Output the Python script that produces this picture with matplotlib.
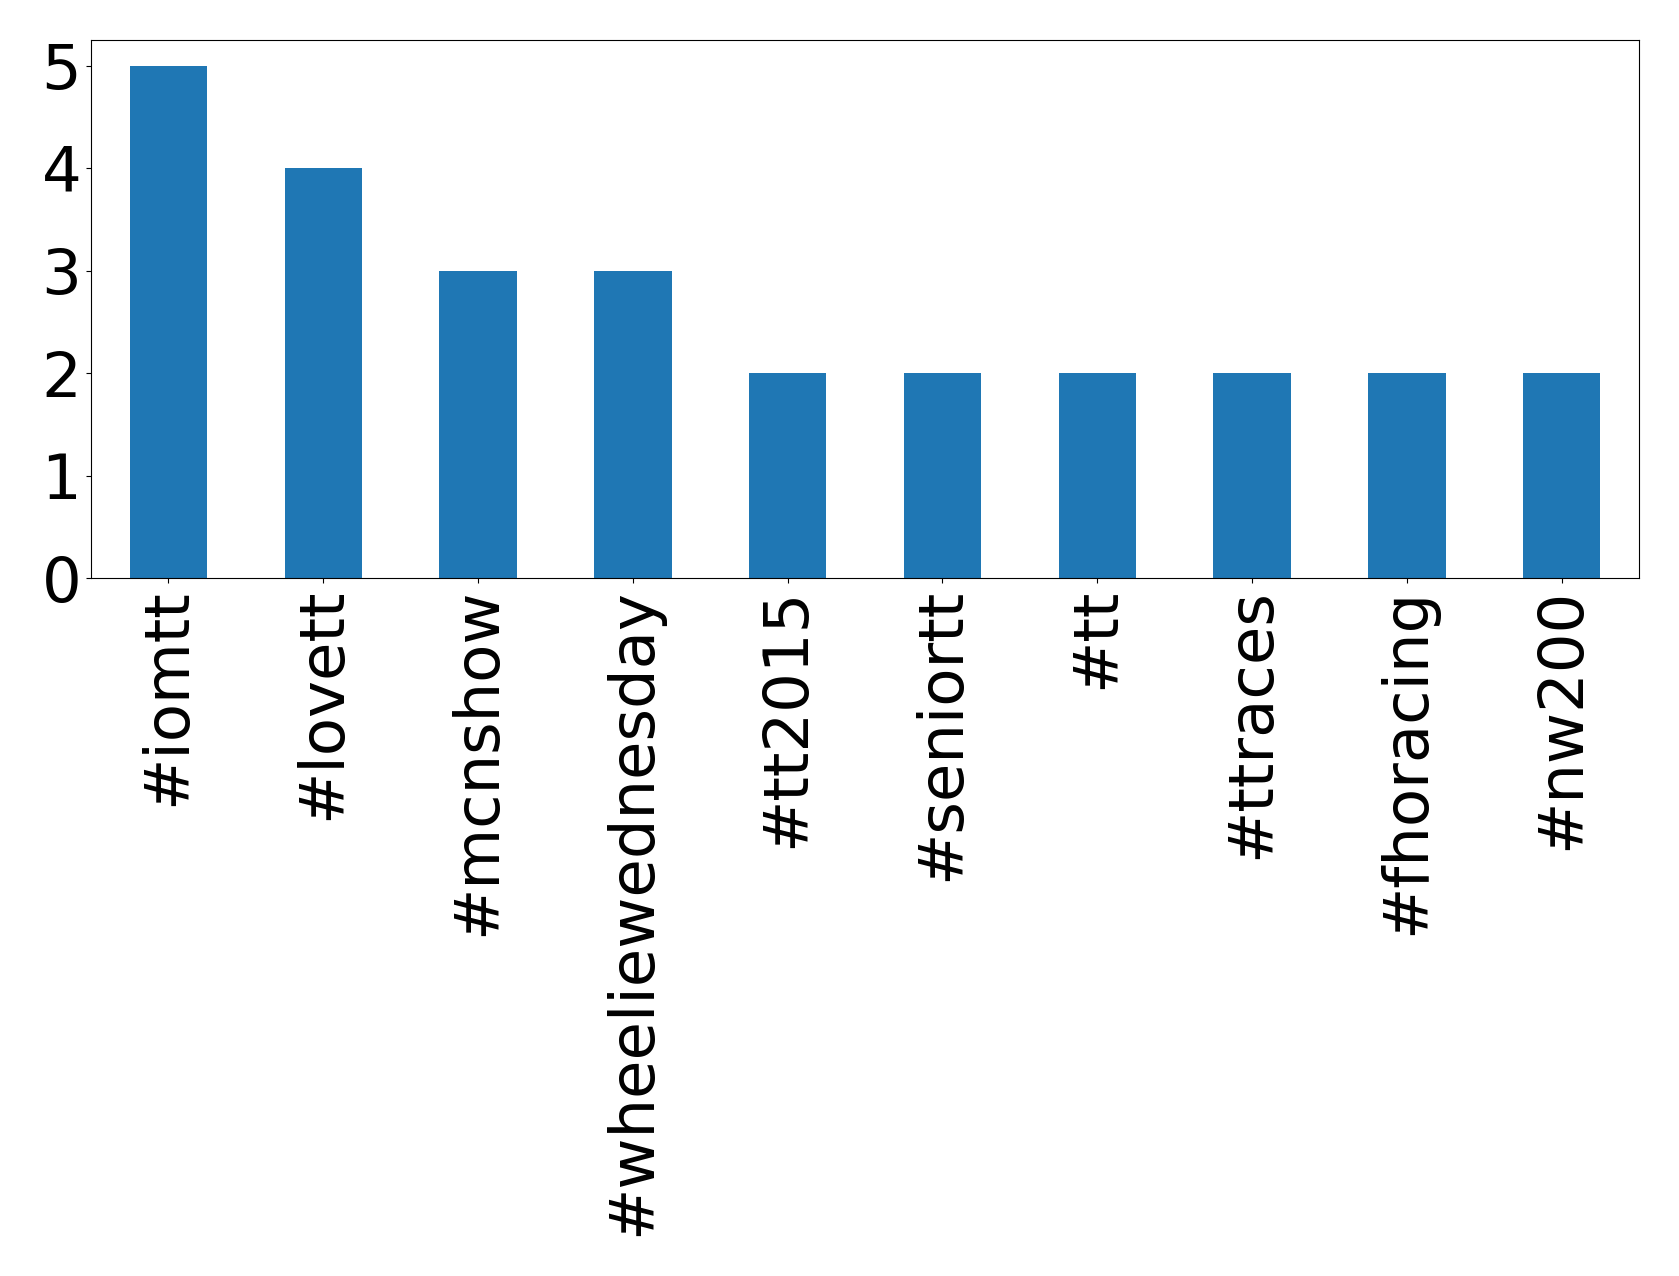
#!/usr/bin/env python3
import matplotlib
matplotlib.use("Agg")
import matplotlib.pyplot as plt
import pandas as pd

hashtags = ['#iomtt', '#lovett', '#mcnshow', '#wheeliewednesday', '#tt2015',
            '#seniortt', '#tt', '#ttraces', '#fhoracing', '#nw200']
counts = [5, 4, 3, 3, 2, 2, 2, 2, 2, 2]


def make_plot():
    s = pd.Series(counts, index=hashtags)
    fig = plt.figure(figsize=(16.79, 12.76), dpi=100)
    ax = fig.add_axes([0.0542, 0.547, 0.922, 0.4217])
    s.plot(kind='bar', ax=ax, color='#1f77b4', fontsize=45)
    ax.set_ylim(0, 5.25)
    ax.set_yticks(range(6))
    fig.savefig('out.png', dpi=100)


if __name__ == "__main__":
    make_plot()
